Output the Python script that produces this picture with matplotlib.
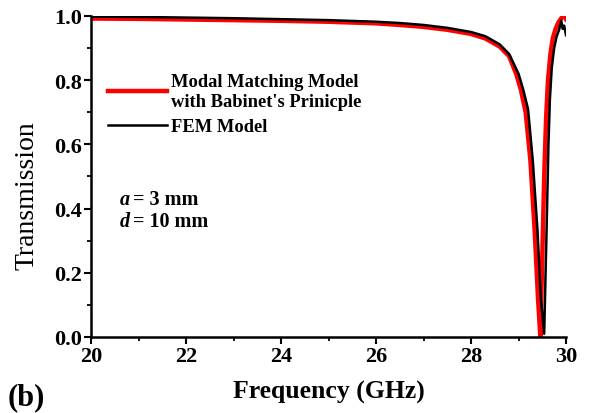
import matplotlib
matplotlib.use("Agg")
import matplotlib.pyplot as plt
from matplotlib.ticker import MultipleLocator

# Data
freq_mm = [20, 21, 22, 23, 24, 25, 26, 26.5, 27, 27.5, 28, 28.3, 28.6, 28.8,
           28.95, 29.05, 29.15, 29.25, 29.34, 29.41, 29.46, 29.5, 29.54, 29.58,
           29.62, 29.67, 29.72, 29.78, 29.84, 29.9, 29.96, 30.0]
trans_mm = [0.992, 0.991, 0.989, 0.987, 0.985, 0.982, 0.977, 0.972, 0.966, 0.957,
            0.944, 0.93, 0.905, 0.875, 0.82, 0.77, 0.70, 0.55, 0.33, 0.12, 0.0,
            0.25, 0.50, 0.68, 0.80, 0.88, 0.93, 0.96, 0.98, 0.993, 1.0, 0.99]

freq_fem = [20, 21, 22, 23, 24, 25, 26, 26.5, 27, 27.5, 28, 28.3, 28.6, 28.8,
            29.0, 29.1, 29.2, 29.3, 29.4, 29.47, 29.54, 29.59, 29.63, 29.66,
            29.7, 29.75, 29.8, 29.85, 29.9, 29.93, 29.96, 30.0]
trans_fem = [0.998, 0.997, 0.995, 0.993, 0.99, 0.987, 0.982, 0.978, 0.972, 0.963,
             0.95, 0.937, 0.912, 0.882, 0.82, 0.77, 0.71, 0.55, 0.33, 0.12, 0.01,
             0.33, 0.60, 0.74, 0.84, 0.90, 0.935, 0.955, 0.985, 0.96, 0.97, 0.94]

x_ticks = [20, 22, 24, 26, 28, 30]
y_ticks = [0.0, 0.2, 0.4, 0.6, 0.8, 1.0]
y_tick_labels = ["0.0", "0.2", "0.4", "0.6", "0.8", "1.0"]

serif = ["Liberation Serif", "DejaVu Serif"]
plt.rcParams["font.family"] = serif

fig = plt.figure(figsize=(5.89, 4.14), dpi=100)
ax = fig.add_axes([0.1545, 0.1836, 0.8065, 0.7754])

ax.plot(freq_mm, trans_mm, color="#ff0000", lw=3.2,
        label="Modal Matching Model\nwith Babinet's Prinicple", zorder=2)
ax.plot(freq_fem, trans_fem, color="black", lw=1.8, label="FEM Model", zorder=3)

ax.set_xlim(20, 30)
ax.set_ylim(0, 1.0)
ax.set_xticks(x_ticks)
ax.xaxis.set_minor_locator(MultipleLocator(1))
ax.set_yticks(y_ticks)
ax.set_yticklabels(y_tick_labels)
ax.yaxis.set_minor_locator(MultipleLocator(0.1))

for s in ["top", "right"]:
    ax.spines[s].set_visible(False)
for s in ["left", "bottom"]:
    ax.spines[s].set_linewidth(1.8)

ax.tick_params(which="major", direction="out", length=5, width=1.5)
ax.tick_params(which="minor", direction="out", length=3, width=1.3)
ax.tick_params(axis="both", labelsize=16, pad=1.5)
for lab in ax.get_xticklabels() + ax.get_yticklabels():
    lab.set_fontweight("bold")

ax.set_xlabel("Frequency (GHz)", fontsize=18.5, fontweight="bold", labelpad=10)
ax.set_ylabel("Transmission", fontsize=20)
ax.yaxis.set_label_coords(-0.108, 0.445)

leg = ax.legend(loc="upper left", bbox_to_anchor=(0.02, 0.845), frameon=False,
                prop={"family": serif, "weight": "bold", "size": 13.3},
                handlelength=3.2, handletextpad=0.2, labelspacing=0.45,
                borderaxespad=0)

fig.text(120/589, 1-200/414, "a", fontsize=14.5, fontweight="bold",
         fontstyle="italic", va="center", ha="left")
fig.text(133/589, 1-200/414, "= 3 mm", fontsize=14.5, fontweight="bold",
         va="center", ha="left")
fig.text(120/589, 1-222/414, "d", fontsize=14.5, fontweight="bold",
         fontstyle="italic", va="center", ha="left")
fig.text(133/589, 1-222/414, "= 10 mm", fontsize=14.5, fontweight="bold",
         va="center", ha="left")

fig.text(8/589, 1-398/414, "(b)", fontsize=22, fontweight="bold",
         va="center", ha="left")

fig.savefig("out.png", dpi=100)
